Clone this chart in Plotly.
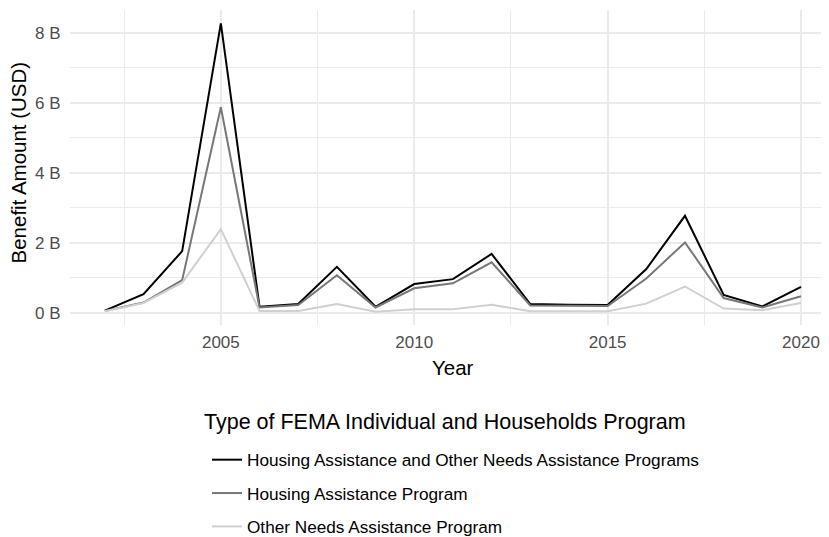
import plotly.graph_objects as go

years = list(range(2002, 2021))
# values in billions of USD
combined = [0.06, 0.53, 1.76, 8.27, 0.17, 0.25, 1.31, 0.17, 0.82, 0.96, 1.68, 0.25, 0.23, 0.22, 1.25, 2.77, 0.51, 0.18, 0.74]
housing = [0.05, 0.29, 0.93, 5.87, 0.15, 0.22, 1.07, 0.15, 0.70, 0.84, 1.44, 0.21, 0.20, 0.19, 0.98, 2.01, 0.42, 0.15, 0.47]
other = [0.04, 0.28, 0.86, 2.39, 0.05, 0.05, 0.25, 0.03, 0.10, 0.10, 0.23, 0.04, 0.04, 0.04, 0.26, 0.75, 0.12, 0.07, 0.28]

series_names = [
    "Housing Assistance and Other Needs Assistance Programs",
    "Housing Assistance Program",
    "Other Needs Assistance Program",
]
series_values = [combined, housing, other]
series_colors = ["#000000", "#777777", "#d0d0d0"]

y_tickvals = [0, 2, 4, 6, 8]
y_ticktext = ["0 B", "2 B", "4 B", "6 B", "8 B"]

legend_title = "Type of FEMA Individual and Households Program"
x_title = "Year"
y_title = "Benefit Amount (USD)"

FONT = "Liberation Sans, Arial, sans-serif"

fig = go.Figure()
for name, vals, col in zip(series_names, series_values, series_colors):
    fig.add_trace(go.Scatter(
        x=years, y=vals, mode="lines", name=name, legendgroup=name,
        line=dict(color=col, width=2),
    ))

grid = "#ebebeb"
fig.update_layout(
    width=829, height=537,
    margin=dict(l=62, r=0, t=2, b=220, autoexpand=False),
    plot_bgcolor="white", paper_bgcolor="white",
    font=dict(family=FONT, color="#000000"),
    xaxis=dict(
        range=[2001.1, 2020.93], tickmode="linear", tick0=2005, dtick=5,
        showgrid=True, gridcolor=grid, gridwidth=1.8, zeroline=False,
        ticks="", ticklabelstandoff=5,
        tickfont=dict(size=17, color="#4d4d4d"), tickangle=0,
        minor=dict(tick0=2002.5, dtick=2.5, showgrid=True, gridcolor=grid, gridwidth=0.9),
    ),
    yaxis=dict(
        range=[-0.35, 8.65], tickvals=y_tickvals, ticktext=y_ticktext,
        showgrid=True, gridcolor=grid, gridwidth=1.8, zeroline=False,
        ticks="outside", ticklen=5, tickcolor="rgba(0,0,0,0)",
        tickfont=dict(size=17, color="#4d4d4d"),
        minor=dict(tickvals=[1, 3, 5, 7], showgrid=True, gridcolor=grid, gridwidth=0.9),
    ),
    legend=dict(
        font=dict(size=17.2, color="#000000"),
        xref="container", yref="container",
        x=199 / 829, y=1 - 434 / 537, xanchor="left", yanchor="top",
        orientation="v", tracegroupgap=8, itemwidth=30,
        bgcolor="rgba(0,0,0,0)",
    ),
    annotations=[
        dict(text=legend_title, xref="paper", yref="paper",
             x=(202 - 70) / 767, y=1 - (422 - 10) / 315, xanchor="left", yanchor="middle",
             showarrow=False, font=dict(size=21.5, color="#000000")),
        dict(text=x_title, xref="paper", yref="paper",
             x=(453 - 70) / 767, y=1 - (367 - 10) / 315, xanchor="center", yanchor="middle",
             showarrow=False, font=dict(size=20.5, color="#000000")),
        dict(text=y_title, xref="paper", yref="paper", textangle=-90,
             x=(18 - 70) / 767, y=1 - (162.5 - 10) / 315, xanchor="center", yanchor="middle",
             showarrow=False, font=dict(size=20.5, color="#000000")),
    ],
)

fig.write_html("out.html")
